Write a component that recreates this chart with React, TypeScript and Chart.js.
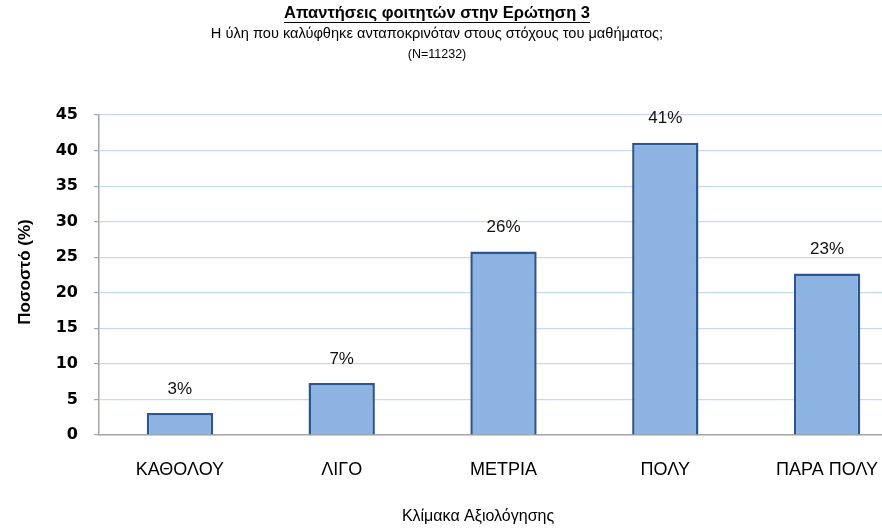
import React, { useEffect, useRef } from "react";
import { Chart, registerables } from "chart.js";

Chart.register(...registerables);

const categories = ["ΚΑΘΟΛΟΥ", "ΛΙΓΟ", "ΜΕΤΡΙΑ", "ΠΟΛΥ", "ΠΑΡΑ ΠΟΛΥ"];
const percentages = [3.1, 7.3, 25.8, 41.1, 22.7];
const titleLines = [
  "Απαντήσεις φοιτητών στην Ερώτηση 3",
  "Η ύλη που καλύφθηκε ανταποκρινόταν στους στόχους του μαθήματος;",
  "(N=11232)",
];
const yAxisTitle = "Ποσοστό (%)";
const xAxisTitle = "Κλίμακα Αξιολόγησης";

const FONT = "'Liberation Sans', Arial, sans-serif";

const textPlugin = {
  id: "customTexts",
  afterDraw(chart: any) {
    const ctx = chart.ctx;
    ctx.save();
    ctx.fillStyle = "#000";
    ctx.textAlign = "center";
    ctx.textBaseline = "middle";
    const cx = 437;
    ctx.font = `bold 16.5px ${FONT}`;
    ctx.fillText(titleLines[0], cx, 13);
    const w = ctx.measureText(titleLines[0]).width;
    ctx.strokeStyle = "#000";
    ctx.lineWidth = 1;
    ctx.beginPath();
    ctx.moveTo(cx - w / 2, 22.5);
    ctx.lineTo(cx + w / 2, 22.5);
    ctx.stroke();
    ctx.font = `14.6px ${FONT}`;
    ctx.fillText(titleLines[1], cx, 34);
    ctx.font = `12.5px ${FONT}`;
    ctx.fillText(titleLines[2], cx, 55);

    // x axis title
    ctx.font = `16px ${FONT}`;
    ctx.fillText(xAxisTitle, 478, 517);

    // y axis title
    ctx.translate(25, 272);
    ctx.rotate(-Math.PI / 2);
    ctx.font = `bold 17px ${FONT}`;
    ctx.fillText(yAxisTitle, 0, 0);
    ctx.restore();
  },
};

const labelPlugin = {
  id: "barLabels",
  afterDatasetsDraw(chart: any) {
    const ctx = chart.ctx;
    const meta = chart.getDatasetMeta(0);
    const data = chart.data.datasets[0].data as number[];
    ctx.save();
    ctx.fillStyle = "#111";
    ctx.font = `17px ${FONT}`;
    ctx.textAlign = "center";
    ctx.textBaseline = "middle";
    meta.data.forEach((bar: any, i: number) => {
      ctx.fillText(`${Math.round(data[i])}%`, bar.x, bar.y - 24);
    });
    ctx.restore();
  },
};

export default function App() {
  const ref = useRef<HTMLCanvasElement>(null);
  useEffect(() => {
    if (!ref.current) return;
    const chart = new Chart(ref.current, {
      type: "bar",
      data: {
        labels: categories,
        datasets: [
          {
            data: percentages,
            backgroundColor: "#8db3e2",
            borderColor: "#2b5690",
            borderWidth: 2.5,
            categoryPercentage: 1,
            barPercentage: 0.41,
          },
        ],
      },
      options: {
        animation: false,
        responsive: false,
        layout: { padding: { top: 115, left: 0, right: 0, bottom: 0 } },
        plugins: {
          legend: { display: false },
          title: { display: false },
          tooltip: { enabled: false },
        },
        scales: {
          x: {
            grid: { display: false, drawTicks: false },
            border: { color: "#a6a6a6", width: 1.5 },
            ticks: {
              color: "#000",
              font: { family: FONT, size: 18 },
              padding: 24,
              maxRotation: 0,
            },
            afterFit(scale: any) {
              scale.height = 94;
            },
          },
          y: {
            min: 0,
            max: 45,
            ticks: {
              stepSize: 5,
              color: "#000",
              font: { family: "'DejaVu Sans', sans-serif", size: 16, weight: "bold" },
              padding: 16,
            },
            grid: {
              color: "#c6d9f1",
              lineWidth: 1.2,
              tickColor: "#a6a6a6",
              tickLength: 5,
            },
            border: { color: "#a6a6a6", width: 1.5 },
            afterFit(scale: any) {
              scale.width = 99;
            },
          },
        },
      },
      plugins: [textPlugin, labelPlugin],
    });
    return () => chart.destroy();
  }, []);
  return (
    <div
      style={{
        position: "fixed",
        left: 0,
        top: 0,
        width: 882,
        height: 529,
        overflow: "hidden",
        background: "#fff",
      }}
    >
      <canvas ref={ref} width={908} height={529} style={{ display: "block" }} />
    </div>
  );
}
